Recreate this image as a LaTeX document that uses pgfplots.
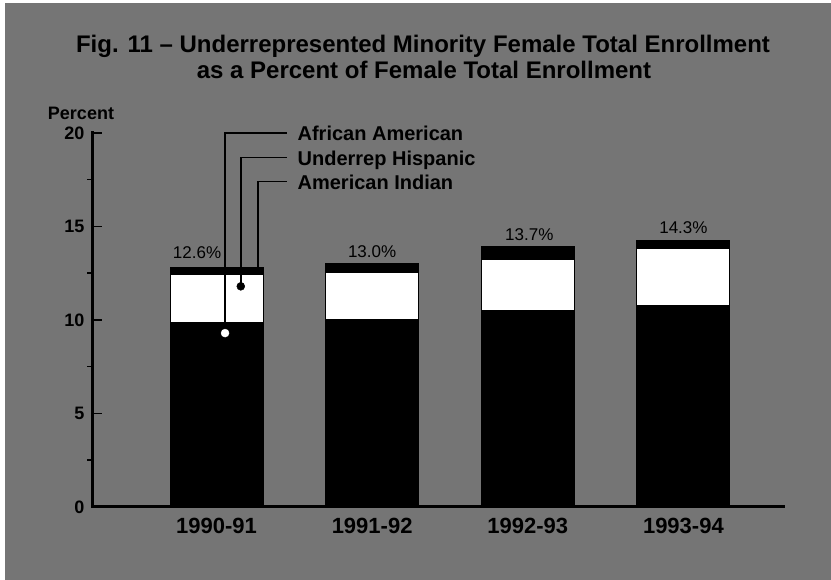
\documentclass[border=0pt]{standalone}
\usepackage{pgfplots}
\pgfplotsset{compat=1.18}
\usepackage{pgfplotstable}
\usepackage{fontspec}
\setmainfont{Liberation Sans}
\definecolor{bg}{gray}{0.46}

\pgfplotstableread{
x AA HI AI
0 9.85 2.6 0.35
1 10.0 2.55 0.45
2 10.5 2.75 0.7
3 10.8 3.0 0.45
}\data

\begin{document}
\begin{tikzpicture}[x=1pt,y=1pt]
\path[use as bounding box] (0,0) rectangle (831,580);
\fill[white] (0,0) rectangle (831,580);
\fill[bg] (5,0) rectangle (831,577);
\node[anchor=base, font=\fontsize{24}{26}\selectfont\bfseries] at (423,527) {Fig. 11 – Underrepresented Minority Female Total Enrollment};
\node[anchor=base, font=\fontsize{24}{26}\selectfont\bfseries] at (424,501) {as a Percent of Female Total Enrollment};
\node[font=\fontsize{18}{20}\selectfont\bfseries] at (81,467) {Percent};

\begin{axis}[
  at={(92pt,73pt)}, anchor=south west,
  scale only axis, width=691pt, height=374pt,
  xmin=-0.8, xmax=3.64, ymin=0, ymax=20,
  ybar stacked, bar width=93pt,
  axis lines*=left,
  every outer x axis line/.append style={line width=3pt, black, line cap=rect},
  every outer y axis line/.append style={line width=3pt, black, line cap=rect},
  ytick={0,5,10,15,20},
  minor ytick={2.5,7.5,12.5,17.5},
  tick align=inside,
  major tick length=10pt,
  minor tick length=5pt,
  minor y tick style={xshift=-5pt},
  y tick style={black, line width=1.5pt},
  xtick={0,1,2,3},
  xticklabels={1990-91,1991-92,1992-93,1993-94},
  x tick style={draw=none},
  /pgf/number format/assume math mode=true,
  yticklabel style={font=\fontsize{18}{20}\selectfont\bfseries, xshift=-4pt},
  xticklabel style={font=\fontsize{22}{24}\selectfont\bfseries, yshift=-8pt},
]
\addplot[fill=black, draw=black, line width=1pt] table[x=x,y=AA]{\data};
\addplot[fill=white, draw=black, line width=1pt] table[x=x,y=HI]{\data};
\addplot[fill=black, draw=black, line width=1pt] table[x=x,y=AI]{\data};
\end{axis}

\begin{axis}[
  at={(92pt,73pt)}, anchor=south west,
  scale only axis, width=691pt, height=374pt,
  xmin=-0.8, xmax=3.64, ymin=0, ymax=20,
  hide axis, clip=false,
]
\addplot[black, line width=1.5pt] coordinates {(0.055,9.3) (0.055,20) (0.45,20)};
\addplot[black, line width=1.5pt] coordinates {(0.156,11.8) (0.156,18.7) (0.45,18.7)};
\addplot[black, line width=1.5pt] coordinates {(0.267,12.8) (0.267,17.4) (0.45,17.4)};
\addplot[only marks, mark=*, mark size=4pt, mark options={fill=white, draw=white}] coordinates {(0.055,9.3)};
\addplot[only marks, mark=*, mark size=4pt, mark options={fill=black, draw=black}] coordinates {(0.156,11.8)};
\node[anchor=base west, inner sep=0pt, font=\fontsize{20}{22}\selectfont\bfseries] at (axis cs:0.52,20) [yshift=-8pt] {African American};
\node[anchor=base west, inner sep=0pt, font=\fontsize{20}{22}\selectfont\bfseries] at (axis cs:0.52,18.7) [yshift=-8pt] {Underrep Hispanic};
\node[anchor=base west, inner sep=0pt, font=\fontsize{20}{22}\selectfont\bfseries] at (axis cs:0.52,17.4) [yshift=-8pt] {American Indian};
\node[anchor=base, inner sep=0pt, font=\fontsize{17}{19}\selectfont] at (axis cs:-0.125,13.3) {12.6\%};
\node[anchor=base, inner sep=0pt, font=\fontsize{17}{19}\selectfont] at (axis cs:1.0,13.35) {13.0\%};
\node[anchor=base, inner sep=0pt, font=\fontsize{17}{19}\selectfont] at (axis cs:2.01,14.26) {13.7\%};
\node[anchor=base, inner sep=0pt, font=\fontsize{17}{19}\selectfont] at (axis cs:3.0,14.64) {14.3\%};
\end{axis}
\end{tikzpicture}
\end{document}
